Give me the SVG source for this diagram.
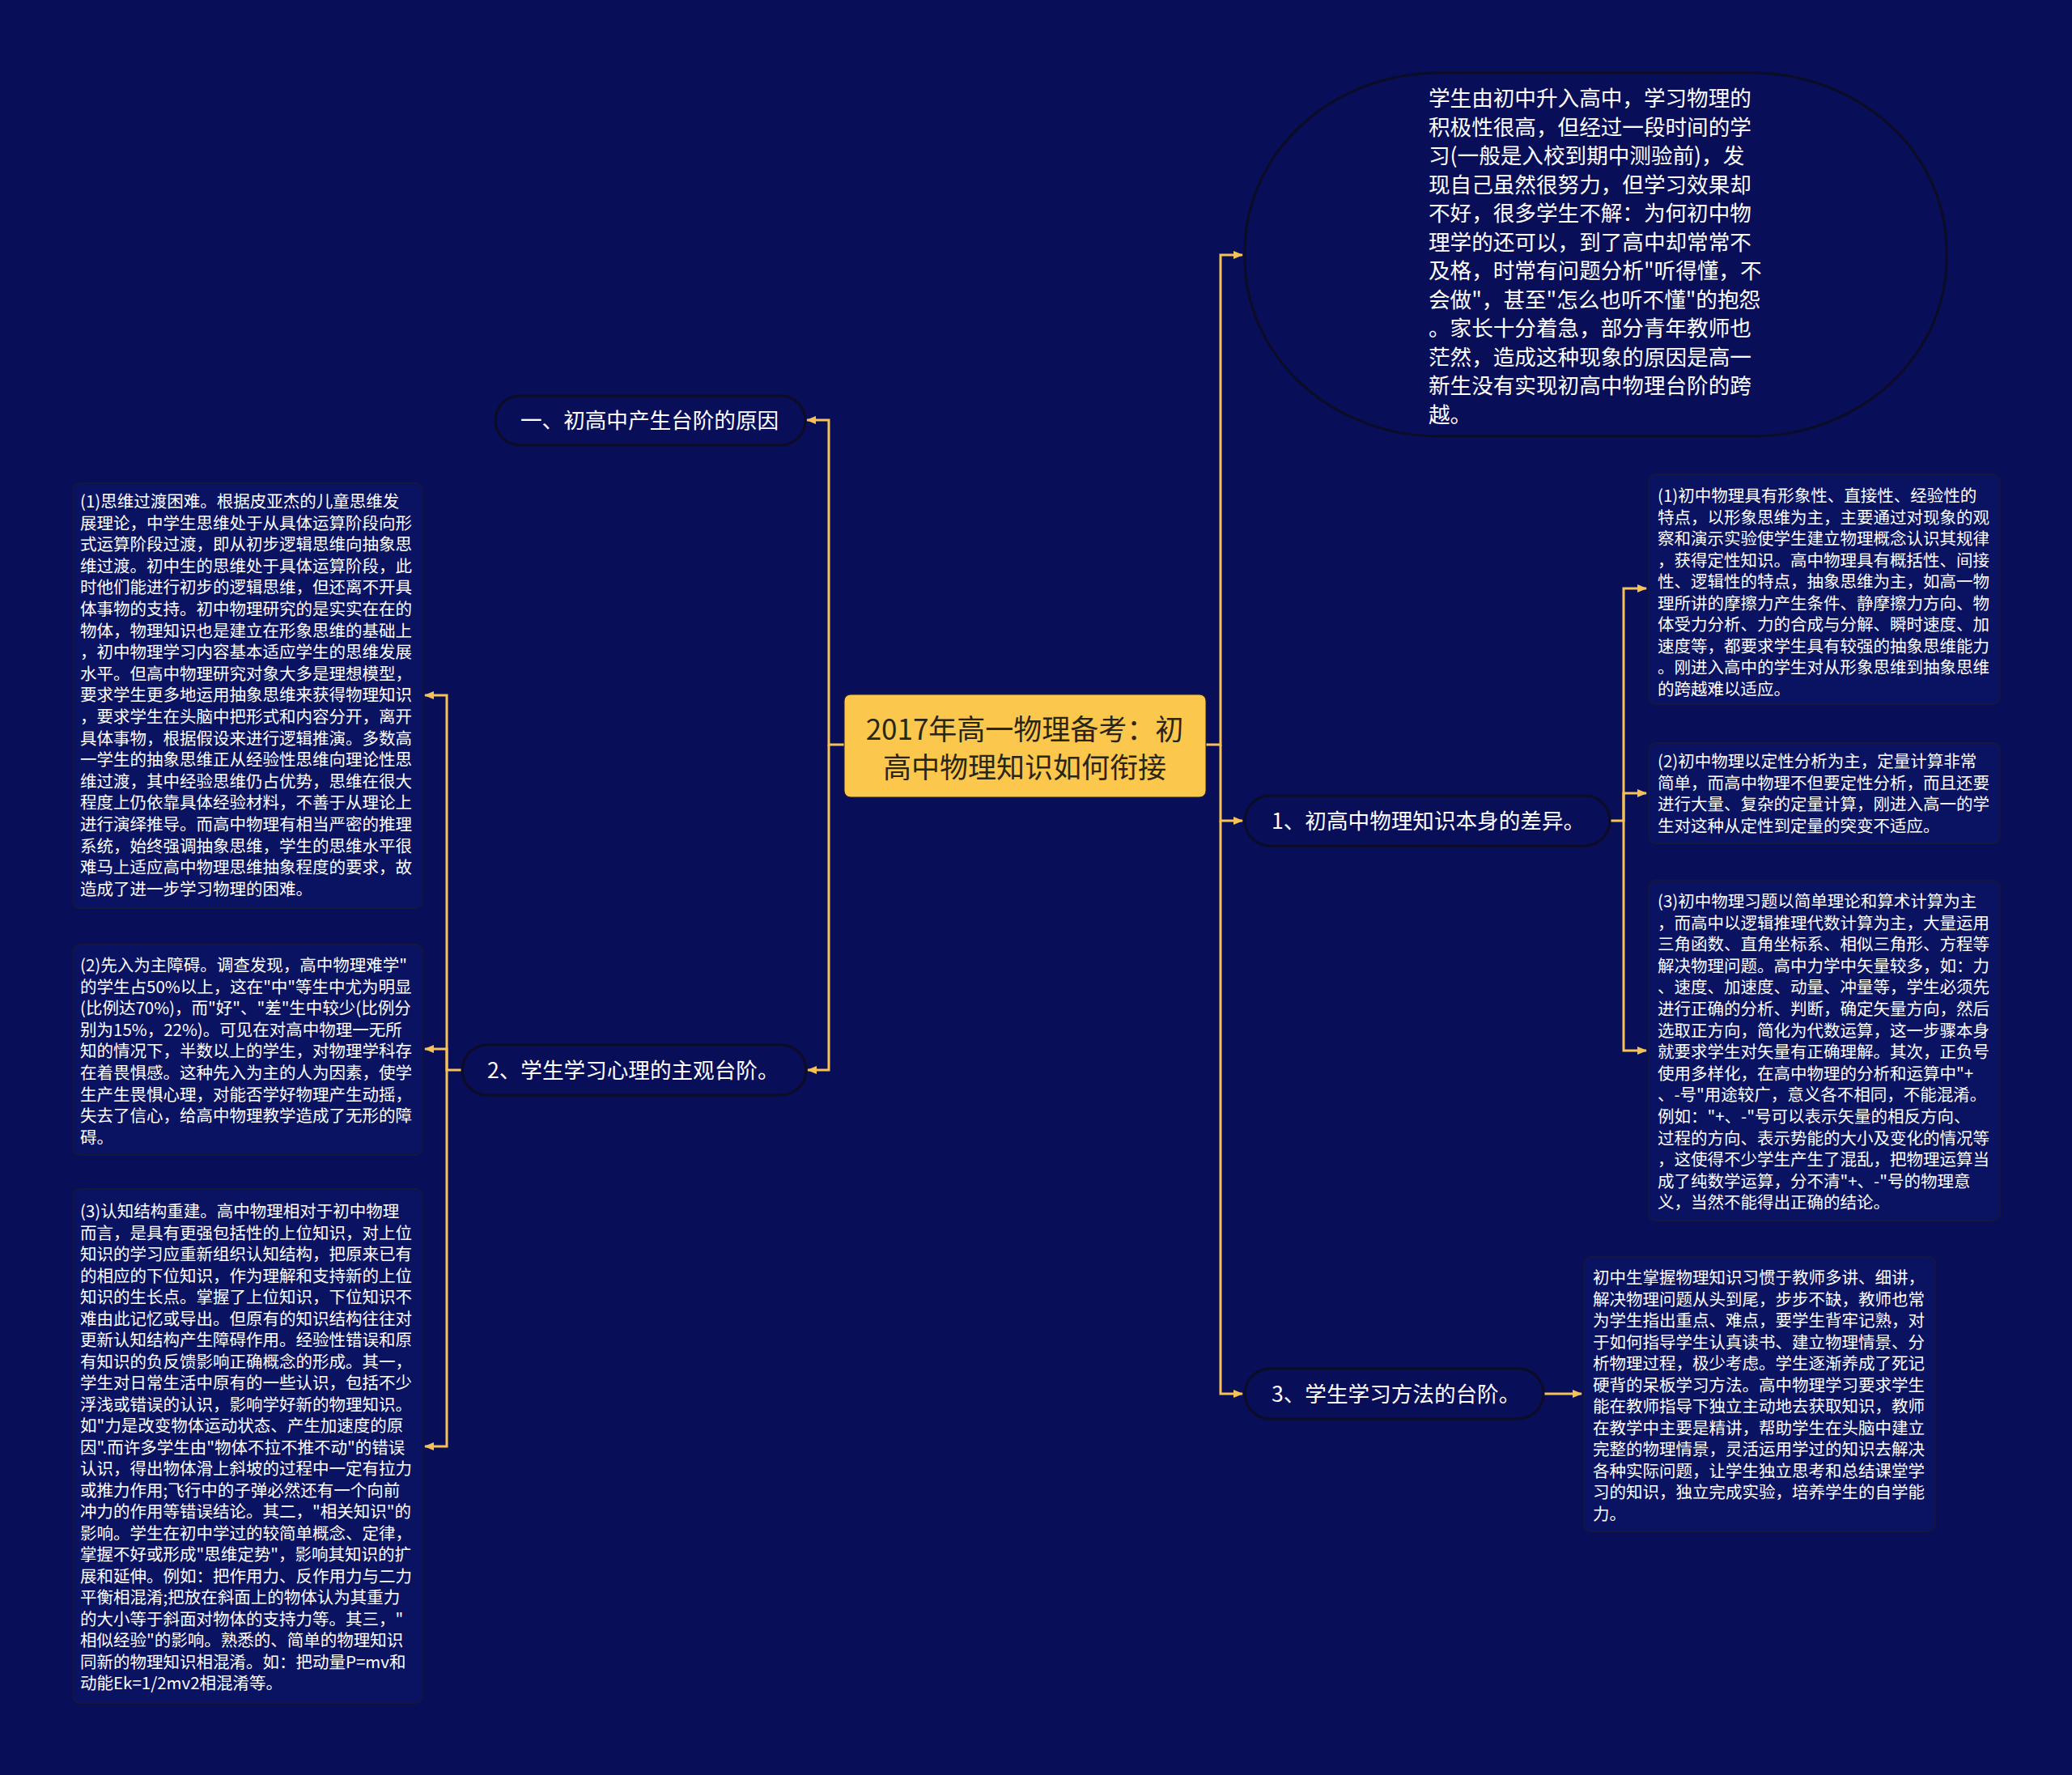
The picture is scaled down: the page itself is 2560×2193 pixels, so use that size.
<svg xmlns="http://www.w3.org/2000/svg" width="2560" height="2193" viewBox="0 0 2560 2193">
<defs>
<marker id="arr" markerUnits="userSpaceOnUse" markerWidth="12" markerHeight="10" refX="11" refY="5" orient="auto">
<path d="M0,0 L12,5 L0,10 z" fill="#f6c257"/>
</marker>
<style>
.bg{fill:#080e58}
.conn{fill:none;stroke:#f6c257;stroke-width:3}
.pill{fill:#080e58;stroke:#0c0c24;stroke-width:3}
.box{fill:#0a1262;stroke:#15173d;stroke-width:1.8}
.t{font-family:"Noto Sans CJK SC","Noto Sans",sans-serif;fill:#ffffff}
.pt{font-size:26.6px}
.bt{font-size:20.5px}
.ct{font-family:"Noto Sans CJK SC","Noto Sans",sans-serif;font-size:35px;fill:#2a2616;text-anchor:middle}
</style>
</defs>
<rect class="bg" x="0" y="0" width="2560" height="2193"/>

<g id="connectors">
<path class="conn" d="M1043,920 H1024 V519 H997" marker-end="url(#arr)"/>
<path class="conn" d="M1024,920 V1322 H998" marker-end="url(#arr)"/>
<path class="conn" d="M571,1322 H552 V859 H525" marker-end="url(#arr)"/>
<path class="conn" d="M552,1322 V1296 H525" marker-end="url(#arr)"/>
<path class="conn" d="M552,1322 V1787 H525" marker-end="url(#arr)"/>
<path class="conn" d="M1490,920 H1508 V315 H1535" marker-end="url(#arr)"/>
<path class="conn" d="M1508,920 V1014 H1535" marker-end="url(#arr)"/>
<path class="conn" d="M1508,1014 V1722 H1535" marker-end="url(#arr)"/>
<path class="conn" d="M1989,1014 H2006 V727 H2034" marker-end="url(#arr)"/>
<path class="conn" d="M2006,1014 V980 H2034" marker-end="url(#arr)"/>
<path class="conn" d="M2006,1014 V1298 H2034" marker-end="url(#arr)"/>
<path class="conn" d="M1907,1722 H1954" marker-end="url(#arr)"/>
</g>

<g id="center">
<rect x="1043" y="858" width="447" height="127" rx="8" fill="#fcc74d" stroke="#2a2616" stroke-width="1"/>
<text class="ct" x="1266" y="914">2017年高一物理备考：初</text>
<text class="ct" x="1266" y="961">高中物理知识如何衔接</text>
</g>

<g id="n-intro">
<rect x="1538" y="90" width="867" height="449" rx="240" ry="220" fill="#080e58" stroke="#0c0c24" stroke-width="3"/>
<text class="t pt" x="1765" y="131">
<tspan x="1765" y="131">学生由初中升入高中，学习物理的</tspan>
<tspan x="1765" y="166.5">积极性很高，但经过一段时间的学</tspan>
<tspan x="1765" y="202">习(一般是入校到期中测验前)，发</tspan>
<tspan x="1765" y="237.5">现自己虽然很努力，但学习效果却</tspan>
<tspan x="1765" y="273">不好，很多学生不解：为何初中物</tspan>
<tspan x="1765" y="308.5">理学的还可以，到了高中却常常不</tspan>
<tspan x="1765" y="344">及格，时常有问题分析"听得懂，不</tspan>
<tspan x="1765" y="379.5">会做"，甚至"怎么也听不懂"的抱怨</tspan>
<tspan x="1765" y="415">。家长十分着急，部分青年教师也</tspan>
<tspan x="1765" y="450.5">茫然，造成这种现象的原因是高一</tspan>
<tspan x="1765" y="486">新生没有实现初高中物理台阶的跨</tspan>
<tspan x="1765" y="521.5">越。</tspan>
</text>
</g>

<g id="n-reason">
<rect class="pill" x="612" y="489" width="383" height="61" rx="30.5"/>
<text class="t pt" x="643" y="529">一、初高中产生台阶的原因</text>
</g>

<g id="n-psych">
<rect class="pill" x="571" y="1291" width="425" height="62" rx="31"/>
<text class="t pt" x="602" y="1332">2、学生学习心理的主观台阶。</text>
</g>

<g id="n-diff">
<rect class="pill" x="1538" y="983" width="451" height="62" rx="31"/>
<text class="t pt" x="1571" y="1024">1、初高中物理知识本身的差异。</text>
</g>

<g id="n-method">
<rect class="pill" x="1538" y="1691" width="369" height="62" rx="31"/>
<text class="t pt" x="1571" y="1732">3、学生学习方法的台阶。</text>
</g>

<g id="n-l1">
<rect class="box" x="90" y="597" width="432" height="525" rx="8"/>
<text class="t bt">
<tspan x="99" y="627">(1)思维过渡困难。根据皮亚杰的儿童思维发</tspan>
<tspan x="99" y="653.6">展理论，中学生思维处于从具体运算阶段向形</tspan>
<tspan x="99" y="680.2">式运算阶段过渡，即从初步逻辑思维向抽象思</tspan>
<tspan x="99" y="706.8">维过渡。初中生的思维处于具体运算阶段，此</tspan>
<tspan x="99" y="733.4">时他们能进行初步的逻辑思维，但还离不开具</tspan>
<tspan x="99" y="760">体事物的支持。初中物理研究的是实实在在的</tspan>
<tspan x="99" y="786.6">物体，物理知识也是建立在形象思维的基础上</tspan>
<tspan x="99" y="813.2">，初中物理学习内容基本适应学生的思维发展</tspan>
<tspan x="99" y="839.8">水平。但高中物理研究对象大多是理想模型，</tspan>
<tspan x="99" y="866.4">要求学生更多地运用抽象思维来获得物理知识</tspan>
<tspan x="99" y="893">，要求学生在头脑中把形式和内容分开，离开</tspan>
<tspan x="99" y="919.6">具体事物，根据假设来进行逻辑推演。多数高</tspan>
<tspan x="99" y="946.2">一学生的抽象思维正从经验性思维向理论性思</tspan>
<tspan x="99" y="972.8">维过渡，其中经验思维仍占优势，思维在很大</tspan>
<tspan x="99" y="999.4">程度上仍依靠具体经验材料，不善于从理论上</tspan>
<tspan x="99" y="1026">进行演绎推导。而高中物理有相当严密的推理</tspan>
<tspan x="99" y="1052.6">系统，始终强调抽象思维，学生的思维水平很</tspan>
<tspan x="99" y="1079.2">难马上适应高中物理思维抽象程度的要求，故</tspan>
<tspan x="99" y="1105.8">造成了进一步学习物理的困难。</tspan>
</text>
</g>

<g id="n-l2">
<rect class="box" x="90" y="1167" width="432" height="260" rx="8"/>
<text class="t bt">
<tspan x="99" y="1200">(2)先入为主障碍。调查发现，高中物理难学"</tspan>
<tspan x="99" y="1226.6">的学生占50%以上，这在"中"等生中尤为明显</tspan>
<tspan x="99" y="1253.2">(比例达70%)，而"好"、"差"生中较少(比例分</tspan>
<tspan x="99" y="1279.8">别为15%，22%)。可见在对高中物理一无所</tspan>
<tspan x="99" y="1306.4">知的情况下，半数以上的学生，对物理学科存</tspan>
<tspan x="99" y="1333">在着畏惧感。这种先入为主的人为因素，使学</tspan>
<tspan x="99" y="1359.6">生产生畏惧心理，对能否学好物理产生动摇，</tspan>
<tspan x="99" y="1386.2">失去了信心，给高中物理教学造成了无形的障</tspan>
<tspan x="99" y="1412.8">碍。</tspan>
</text>
</g>

<g id="n-l3">
<rect class="box" x="90" y="1469" width="432" height="635" rx="8"/>
<text class="t bt">
<tspan x="99" y="1504">(3)认知结构重建。高中物理相对于初中物理</tspan>
<tspan x="99" y="1530.5">而言，是具有更强包括性的上位知识，对上位</tspan>
<tspan x="99" y="1557">知识的学习应重新组织认知结构，把原来已有</tspan>
<tspan x="99" y="1583.5">的相应的下位知识，作为理解和支持新的上位</tspan>
<tspan x="99" y="1610">知识的生长点。掌握了上位知识，下位知识不</tspan>
<tspan x="99" y="1636.5">难由此记忆或导出。但原有的知识结构往往对</tspan>
<tspan x="99" y="1663">更新认知结构产生障碍作用。经验性错误和原</tspan>
<tspan x="99" y="1689.5">有知识的负反馈影响正确概念的形成。其一，</tspan>
<tspan x="99" y="1716">学生对日常生活中原有的一些认识，包括不少</tspan>
<tspan x="99" y="1742.5">浮浅或错误的认识，影响学好新的物理知识。</tspan>
<tspan x="99" y="1769">如"力是改变物体运动状态、产生加速度的原</tspan>
<tspan x="99" y="1795.5">因".而许多学生由"物体不拉不推不动"的错误</tspan>
<tspan x="99" y="1822">认识，得出物体滑上斜坡的过程中一定有拉力</tspan>
<tspan x="99" y="1848.5">或推力作用;飞行中的子弹必然还有一个向前</tspan>
<tspan x="99" y="1875">冲力的作用等错误结论。其二，"相关知识"的</tspan>
<tspan x="99" y="1901.5">影响。学生在初中学过的较简单概念、定律，</tspan>
<tspan x="99" y="1928">掌握不好或形成"思维定势"，影响其知识的扩</tspan>
<tspan x="99" y="1954.5">展和延伸。例如：把作用力、反作用力与二力</tspan>
<tspan x="99" y="1981">平衡相混淆;把放在斜面上的物体认为其重力</tspan>
<tspan x="99" y="2007.5">的大小等于斜面对物体的支持力等。其三，"</tspan>
<tspan x="99" y="2034">相似经验"的影响。熟悉的、简单的物理知识</tspan>
<tspan x="99" y="2060.5">同新的物理知识相混淆。如：把动量P=mv和</tspan>
<tspan x="99" y="2087">动能Ek=1/2mv2相混淆等。</tspan>
</text>
</g>

<g id="n-r1">
<rect class="box" x="2037" y="586" width="434" height="284" rx="8"/>
<text class="t bt">
<tspan x="2048" y="620">(1)初中物理具有形象性、直接性、经验性的</tspan>
<tspan x="2048" y="646.5">特点，以形象思维为主，主要通过对现象的观</tspan>
<tspan x="2048" y="673">察和演示实验使学生建立物理概念认识其规律</tspan>
<tspan x="2048" y="699.5">，获得定性知识。高中物理具有概括性、间接</tspan>
<tspan x="2048" y="726">性、逻辑性的特点，抽象思维为主，如高一物</tspan>
<tspan x="2048" y="752.5">理所讲的摩擦力产生条件、静摩擦力方向、物</tspan>
<tspan x="2048" y="779">体受力分析、力的合成与分解、瞬时速度、加</tspan>
<tspan x="2048" y="805.5">速度等，都要求学生具有较强的抽象思维能力</tspan>
<tspan x="2048" y="832">。刚进入高中的学生对从形象思维到抽象思维</tspan>
<tspan x="2048" y="858.5">的跨越难以适应。</tspan>
</text>
</g>

<g id="n-r2">
<rect class="box" x="2037" y="918" width="434" height="124" rx="8"/>
<text class="t bt">
<tspan x="2048" y="948">(2)初中物理以定性分析为主，定量计算非常</tspan>
<tspan x="2048" y="974.6">简单，而高中物理不但要定性分析，而且还要</tspan>
<tspan x="2048" y="1001.2">进行大量、复杂的定量计算，刚进入高一的学</tspan>
<tspan x="2048" y="1027.8">生对这种从定性到定量的突变不适应。</tspan>
</text>
</g>

<g id="n-r3">
<rect class="box" x="2037" y="1088" width="434" height="420" rx="8"/>
<text class="t bt">
<tspan x="2048" y="1121">(3)初中物理习题以简单理论和算术计算为主</tspan>
<tspan x="2048" y="1147.6">，而高中以逻辑推理代数计算为主，大量运用</tspan>
<tspan x="2048" y="1174.2">三角函数、直角坐标系、相似三角形、方程等</tspan>
<tspan x="2048" y="1200.8">解决物理问题。高中力学中矢量较多，如：力</tspan>
<tspan x="2048" y="1227.4">、速度、加速度、动量、冲量等，学生必须先</tspan>
<tspan x="2048" y="1254">进行正确的分析、判断，确定矢量方向，然后</tspan>
<tspan x="2048" y="1280.6">选取正方向，简化为代数运算，这一步骤本身</tspan>
<tspan x="2048" y="1307.2">就要求学生对矢量有正确理解。其次，正负号</tspan>
<tspan x="2048" y="1333.8">使用多样化，在高中物理的分析和运算中"+</tspan>
<tspan x="2048" y="1360.4">、-号"用途较广，意义各不相同，不能混淆。</tspan>
<tspan x="2048" y="1387">例如："+、-"号可以表示矢量的相反方向、</tspan>
<tspan x="2048" y="1413.6">过程的方向、表示势能的大小及变化的情况等</tspan>
<tspan x="2048" y="1440.2">，这使得不少学生产生了混乱，把物理运算当</tspan>
<tspan x="2048" y="1466.8">成了纯数学运算，分不清"+、-"号的物理意</tspan>
<tspan x="2048" y="1493.4">义，当然不能得出正确的结论。</tspan>
</text>
</g>

<g id="n-r4">
<rect class="box" x="1957" y="1553" width="434" height="339" rx="8"/>
<text class="t bt">
<tspan x="1968" y="1586">初中生掌握物理知识习惯于教师多讲、细讲，</tspan>
<tspan x="1968" y="1612.5">解决物理问题从头到尾，步步不缺，教师也常</tspan>
<tspan x="1968" y="1639">为学生指出重点、难点，要学生背牢记熟，对</tspan>
<tspan x="1968" y="1665.5">于如何指导学生认真读书、建立物理情景、分</tspan>
<tspan x="1968" y="1692">析物理过程，极少考虑。学生逐渐养成了死记</tspan>
<tspan x="1968" y="1718.5">硬背的呆板学习方法。高中物理学习要求学生</tspan>
<tspan x="1968" y="1745">能在教师指导下独立主动地去获取知识，教师</tspan>
<tspan x="1968" y="1771.5">在教学中主要是精讲，帮助学生在头脑中建立</tspan>
<tspan x="1968" y="1798">完整的物理情景，灵活运用学过的知识去解决</tspan>
<tspan x="1968" y="1824.5">各种实际问题，让学生独立思考和总结课堂学</tspan>
<tspan x="1968" y="1851">习的知识，独立完成实验，培养学生的自学能</tspan>
<tspan x="1968" y="1877.5">力。</tspan>
</text>
</g>
</svg>
